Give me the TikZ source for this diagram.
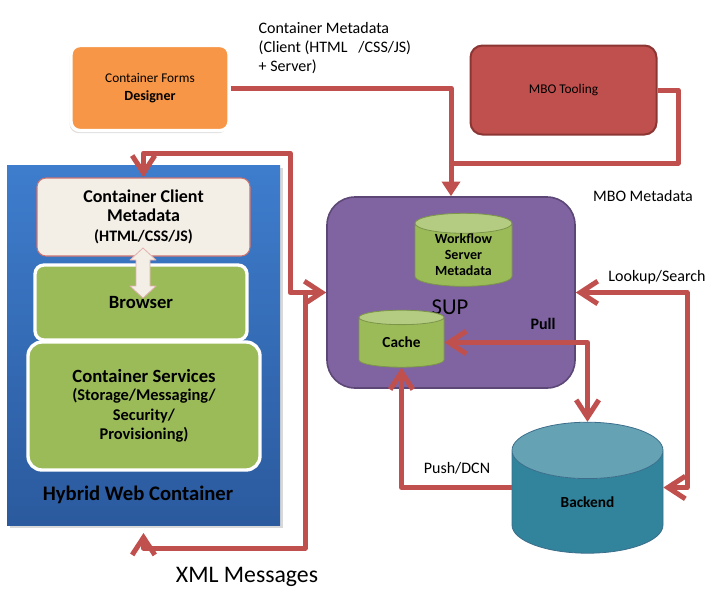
\documentclass[tikz,border=0pt]{standalone}
\usepackage{fontspec}
\setmainfont{Carlito}
\usetikzlibrary{arrows.meta,positioning,shapes.geometric,shadows}
\definecolor{suparrow}{RGB}{192,80,77}
\definecolor{suporange}{RGB}{247,150,70}
\definecolor{supmbo}{RGB}{192,80,77}
\definecolor{supmbodark}{RGB}{140,54,52}
\definecolor{supbluetop}{RGB}{62,125,205}
\definecolor{supbluebot}{RGB}{43,90,158}
\definecolor{supbeige}{RGB}{243,239,231}
\definecolor{supgreen}{RGB}{155,187,89}
\definecolor{suppurple}{RGB}{128,100,162}
\definecolor{suppurpledark}{RGB}{92,71,118}
\definecolor{supteal}{RGB}{49,132,155}
\definecolor{suptealdark}{RGB}{60,110,140}
\newdimen\px \px=0.75pt

\begin{document}
\begin{tikzpicture}[x=0.75pt, y=-0.75pt,
  >={Straight Barb[length=13pt,width=17pt]},
  flow/.style={suparrow,line width=3.75pt,line join=round},
  box/.style={rectangle,rounded corners=9\px,align=center,inner sep=2pt},
  greenbox/.style={box,fill=supgreen,draw=white,line width=2.5pt,font=\bfseries\fontsize{14}{16}\selectfont},
  db/.style={cylinder,shape border rotate=90,draw=#1!80!black,line width=0.6pt,
    cylinder uses custom fill,cylinder body fill=#1,cylinder end fill=#1!75!white,
    align=center,inner sep=0pt,font=\bfseries\fontsize{10.5}{12}\selectfont},
  note/.style={font=\fontsize{12}{14.2}\selectfont,align=left}]
  \useasboundingbox (0,0) rectangle (721,597);

  % tools on top
  \node[box,fill=suporange,draw=white,line width=2.5pt,minimum width=158\px,minimum height=85\px,
        drop shadow={shadow xshift=-1pt,shadow yshift=-2pt,opacity=0.25}] (designer) at (150,88)
        {{\fontsize{10}{11}\selectfont Container Forms}\\[1pt]{\bfseries\fontsize{10.5}{13}\selectfont Designer}};
  \node[box,rounded corners=12\px,fill=supmbo,draw=supmbodark,line width=1.5pt,minimum width=186\px,
        minimum height=89\px,font=\fontsize{10}{11}\selectfont] (mbo) at (563.5,90) {MBO Tooling};

  % hybrid web container
  \node[rectangle,top color=supbluetop,bottom color=supbluebot,minimum width=273\px,minimum height=360\px,
        drop shadow={shadow xshift=2pt,shadow yshift=-2pt,opacity=0.3}] (hybrid) at (143.5,345) {};
  \node[font=\bfseries\fontsize{15.5}{18}\selectfont] (hybridlabel) at (138,495) {Hybrid Web Container};
  \node[box,fill=supbeige,draw=suparrow!80,line width=0.8pt,minimum width=213\px,minimum height=78\px,
        font=\bfseries\fontsize{13.5}{14}\selectfont] (client) at (143.5,217)
        {Container Client\\Metadata\\[1pt]{\fontsize{12}{13}\selectfont (HTML/CSS/JS)}};
  \node[greenbox,minimum width=212\px,minimum height=75\px] (browser) at (141,302.5) {Browser};
  \node[greenbox,rounded corners=14\px,minimum width=232\px,minimum height=128\px,
        font=\bfseries\fontsize{12.3}{14.5}\selectfont] (services) at (144,406)
        {{\fontsize{14}{15}\selectfont Container Services}\\[-1pt](Storage/Messaging/\\Security/\\Provisioning)};
  % fat double arrow client <-> browser
  \coordinate (clientlink) at (143,273);
  \draw[fill=supbeige,draw=suparrow!45,line width=0.6pt,line join=round] (clientlink)
        ++(0,-25) -- ++(13,12) -- ++(-6,0) -- ++(0,26) -- ++(6,0) -- ++(-13,12)
        -- ++(-13,-12) -- ++(6,0) -- ++(0,-26) -- ++(-6,0) -- cycle;

  % SUP server
  \node[box,rounded corners=28\px,fill=suppurple,draw=suppurpledark,line width=1.2pt,minimum width=248\px,
        minimum height=191\px] (sup) at (451,292.5) {};
  \node[font=\fontsize{17}{20}\selectfont] (suplabel) at (450,307) {SUP};
  \node[db=supgreen,minimum width=97\px,minimum height=73\px,aspect=0.35] (workflow) at (463.5,255)
        {Workflow\\Server\\Metadata};
  \node[db=supgreen,minimum width=85\px,minimum height=57\px,aspect=0.38,
        font=\bfseries\fontsize{11.5}{12}\selectfont] (cache) at (401.5,342.5) {Cache};
  \node[db=supteal,draw=suptealdark,minimum width=151\px,minimum height=131\px,aspect=1.05,
        font=\bfseries\fontsize{11.5}{12}\selectfont] (backend) at (587.5,502) {Backend};

  % metadata flows
  \coordinate (mbobend) at (678,163);
  \draw[flow,-{Triangle[length=11pt,width=13.5pt]}] (designer.east) -| (sup.north);
  \draw[flow] (mbo.east) -| (mbobend) -- (sup.north |- mbobend);
  \node[note,anchor=north west] (contlabel) at (254,18) {Container Metadata\\(Client (HTML \ \ /CSS/JS)\\+ Server)};
  \node[note] (mbolabel) at (643,196) {MBO Metadata};

  % XML messages
  \coordinate (xmltop) at (290,153);
  \coordinate (xmlsplit) at (305,292.5);
  \coordinate (xmlbottom) at (143.5,548);
  \coordinate (xmlend) at (143.5,533);
  \draw[flow,<->] (client.north) |- (xmltop) |- (sup.west);
  \draw[flow,->] (xmlsplit) |- (xmlbottom) -- (xmlend);
  \node[font=\fontsize{17.8}{20}\selectfont] (xmllabel) at (247,577) {XML Messages};

  % backend flows
  \coordinate (lookbend) at (687,487.5);
  \draw[flow,<->] (cache.east) -| (backend.north);
  \draw[flow,<->] (sup.east) -| (lookbend) -- (lookbend -| backend.east);
  \draw[flow,->] (backend.west |- lookbend) -| (cache.south);
  \node[font=\bfseries\fontsize{12}{13}\selectfont] (pulllabel) at (543,324) {Pull};
  \node[note] (looklabel) at (657,277) {Lookup/Search};
  \node[note] (pushlabel) at (457,468) {Push/DCN};
\end{tikzpicture}
\end{document}
